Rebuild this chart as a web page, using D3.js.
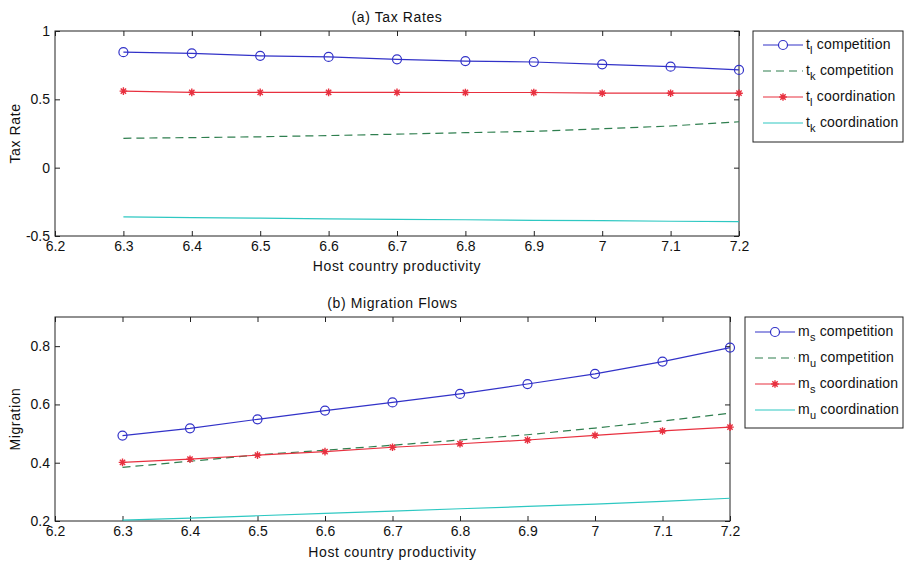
<!DOCTYPE html>
<html><head><meta charset="utf-8">
<script src="https://cdn.jsdelivr.net/npm/d3@7/dist/d3.min.js"></script>
<style>
body{margin:0;background:#fff;}
svg{display:block;font-family:"Liberation Sans",Arial,sans-serif;}
</style></head>
<body>
<svg id="chart" width="904" height="565"></svg>
<script>
// ---- data ----
const productivity = [6.3, 6.4, 6.5, 6.6, 6.7, 6.8, 6.9, 7.0, 7.1, 7.2];
const xTicks = [6.2, 6.3, 6.4, 6.5, 6.6, 6.7, 6.8, 6.9, 7.0, 7.1, 7.2];
const xTickLabels = ["6.2","6.3","6.4","6.5","6.6","6.7","6.8","6.9","7","7.1","7.2"];

const tlCompetition  = [0.845, 0.837, 0.818, 0.810, 0.793, 0.780, 0.773, 0.756, 0.739, 0.715];
const tkCompetition  = [0.215, 0.220, 0.226, 0.235, 0.245, 0.256, 0.266, 0.285, 0.305, 0.336];
const tlCoordination = [0.560, 0.551, 0.551, 0.551, 0.551, 0.550, 0.550, 0.545, 0.545, 0.545];
const tkCoordination = [-0.360, -0.365, -0.369, -0.374, -0.378, -0.381, -0.385, -0.388, -0.392, -0.395];
const taxTicks = [-0.5, 0, 0.5, 1];
const taxTickLabels = ["-0.5", "0", "0.5", "1"];

const msCompetition  = [0.493, 0.518, 0.549, 0.579, 0.607, 0.636, 0.670, 0.705, 0.747, 0.795];
const muCompetition  = [0.384, 0.405, 0.427, 0.443, 0.460, 0.478, 0.496, 0.519, 0.543, 0.570];
const msCoordination = [0.401, 0.412, 0.426, 0.438, 0.453, 0.465, 0.478, 0.494, 0.509, 0.522];
const muCoordination = [0.203, 0.210, 0.218, 0.226, 0.234, 0.242, 0.250, 0.258, 0.267, 0.278];
const migTicks = [0.2, 0.4, 0.6, 0.8];
const migTickLabels = ["0.2", "0.4", "0.6", "0.8"];

// ---- styles ----
const BLUE = "#3232c8", GREEN = "#2f7f4f", RED = "#e8303f", CYAN = "#2ec8c2";

const svg = d3.select("#chart");

function starPath(s){
  const d = s*0.7;
  return `M${-s},0L${s},0M0,${-s}L0,${s}M${-d},${-d}L${d},${d}M${-d},${d}L${d},${-d}`;
}

function panel(cfg){
  const g = svg.append("g");
  const x = d3.scaleLinear().domain([6.2, 7.2]).range([cfg.left, cfg.right]);
  const y = d3.scaleLinear().domain(cfg.yDomain).range([cfg.bottom, cfg.top]);

  const fmtX = d => xTickLabels[xTicks.indexOf(d)];
  const fmtY = d => cfg.yLabels[cfg.yTicks.indexOf(d)];

  const axB = g.append("g").attr("transform", `translate(0,${cfg.bottom})`)
    .call(d3.axisBottom(x).tickValues(xTicks).tickFormat(fmtX).tickSize(-5).tickPadding(5));
  const axT = g.append("g").attr("transform", `translate(0,${cfg.top})`)
    .call(d3.axisTop(x).tickValues(xTicks).tickFormat("").tickSize(-5));
  const axL = g.append("g").attr("transform", `translate(${cfg.left},0)`)
    .call(d3.axisLeft(y).tickValues(cfg.yTicks).tickFormat(fmtY).tickSize(-5).tickPadding(5));
  const axR = g.append("g").attr("transform", `translate(${cfg.right},0)`)
    .call(d3.axisRight(y).tickValues(cfg.yTicks).tickFormat("").tickSize(-5));
  [axB, axT, axL, axR].forEach(a => {
    a.select(".domain").remove();
    a.selectAll("line").attr("stroke", "#222");
    a.selectAll("text").attr("font-size", 14).attr("fill", "#111")
      .attr("font-family", '"Liberation Sans",Arial,sans-serif');
  });
  g.append("rect").attr("x", cfg.left).attr("y", cfg.top)
    .attr("width", cfg.right - cfg.left).attr("height", cfg.bottom - cfg.top)
    .attr("fill", "none").attr("stroke", "#222").attr("stroke-width", 1);

  const line = d3.line().x((d, i) => x(productivity[i])).y(d => y(d));
  cfg.series.forEach(s => {
    g.append("path").datum(s.values).attr("d", line)
      .attr("fill", "none").attr("stroke", s.color).attr("stroke-width", 1.2)
      .attr("stroke-dasharray", s.dash ? "8,5" : null);
    if (s.marker === "circle") {
      g.selectAll(null).data(s.values).enter().append("circle")
        .attr("cx", (d, i) => x(productivity[i])).attr("cy", d => y(d)).attr("r", 4.5)
        .attr("fill", "none").attr("stroke", s.color).attr("stroke-width", 1.2);
    } else if (s.marker === "star") {
      g.selectAll(null).data(s.values).enter().append("path")
        .attr("transform", (d, i) => `translate(${x(productivity[i])},${y(d)})`)
        .attr("d", starPath(3.8)).attr("stroke", s.color).attr("stroke-width", 1.4).attr("fill", "none");
    }
  });

  // titles
  const cx = (cfg.left + cfg.right) / 2;
  g.append("text").attr("x", cx).attr("y", cfg.titleY).attr("text-anchor", "middle")
    .attr("font-size", 14).attr("letter-spacing", 0.6).attr("fill", "#111").text(cfg.title);
  g.append("text").attr("x", cx).attr("y", cfg.xLabelY).attr("text-anchor", "middle")
    .attr("font-size", 14).attr("letter-spacing", 0.6).attr("fill", "#111").text("Host country productivity");
  g.append("text").attr("transform", `translate(20,${(cfg.top + cfg.bottom) / 2}) rotate(-90)`)
    .attr("text-anchor", "middle").attr("font-size", 14).attr("letter-spacing", 0.6)
    .attr("fill", "#111").text(cfg.yTitle);

  // legend
  const L = cfg.legend;
  g.append("rect").attr("x", L.x).attr("y", L.y).attr("width", L.w).attr("height", L.h)
    .attr("fill", "#fff").attr("stroke", "#222").attr("stroke-width", 1);
  cfg.series.forEach((s, i) => {
    const ry = L.rows[i];
    g.append("line").attr("x1", L.x + 10).attr("x2", L.x + 50).attr("y1", ry).attr("y2", ry)
      .attr("stroke", s.color).attr("stroke-width", 1.2)
      .attr("stroke-dasharray", s.dash ? "8,5" : null);
    if (s.marker === "circle") {
      g.append("circle").attr("cx", L.x + 30).attr("cy", ry).attr("r", 4.5)
        .attr("fill", "#fff").attr("stroke", s.color).attr("stroke-width", 1.2);
    } else if (s.marker === "star") {
      g.append("path").attr("transform", `translate(${L.x + 30},${ry})`)
        .attr("d", starPath(3.8)).attr("stroke", s.color).attr("stroke-width", 1.4);
    }
    const t = g.append("text").attr("x", L.x + 53).attr("y", ry + 4).attr("font-size", 14)
      .attr("letter-spacing", 0.2).attr("fill", "#111");
    t.append("tspan").text(s.sym);
    t.append("tspan").attr("dy", 5).attr("font-size", 11).text(s.sub);
    t.append("tspan").attr("dy", -5).text(" " + s.name);
  });
}

panel({
  left: 55, right: 739, top: 31, bottom: 236,
  yDomain: [-0.5, 1], yTicks: taxTicks, yLabels: taxTickLabels,
  title: "(a) Tax Rates", titleY: 22, xLabelY: 271, yTitle: "Tax Rate",
  series: [
    {values: tlCompetition, color: BLUE, marker: "circle", sym: "t", sub: "l", name: "competition"},
    {values: tkCompetition, color: GREEN, dash: true, sym: "t", sub: "k", name: "competition"},
    {values: tlCoordination, color: RED, marker: "star", sym: "t", sub: "l", name: "coordination"},
    {values: tkCoordination, color: CYAN, sym: "t", sub: "k", name: "coordination"}
  ],
  legend: {x: 753, y: 31, w: 150, h: 111, rows: [45, 71, 97, 123]}
});

panel({
  left: 55, right: 730, top: 317, bottom: 521,
  yDomain: [0.2, 0.9], yTicks: migTicks, yLabels: migTickLabels,
  title: "(b) Migration Flows", titleY: 308, xLabelY: 557, yTitle: "Migration",
  series: [
    {values: msCompetition, color: BLUE, marker: "circle", sym: "m", sub: "s", name: "competition"},
    {values: muCompetition, color: GREEN, dash: true, sym: "m", sub: "u", name: "competition"},
    {values: msCoordination, color: RED, marker: "star", sym: "m", sub: "s", name: "coordination"},
    {values: muCoordination, color: CYAN, sym: "m", sub: "u", name: "coordination"}
  ],
  legend: {x: 745, y: 317, w: 158, h: 111, rows: [332, 358, 384, 410]}
});
</script>
</body></html>
